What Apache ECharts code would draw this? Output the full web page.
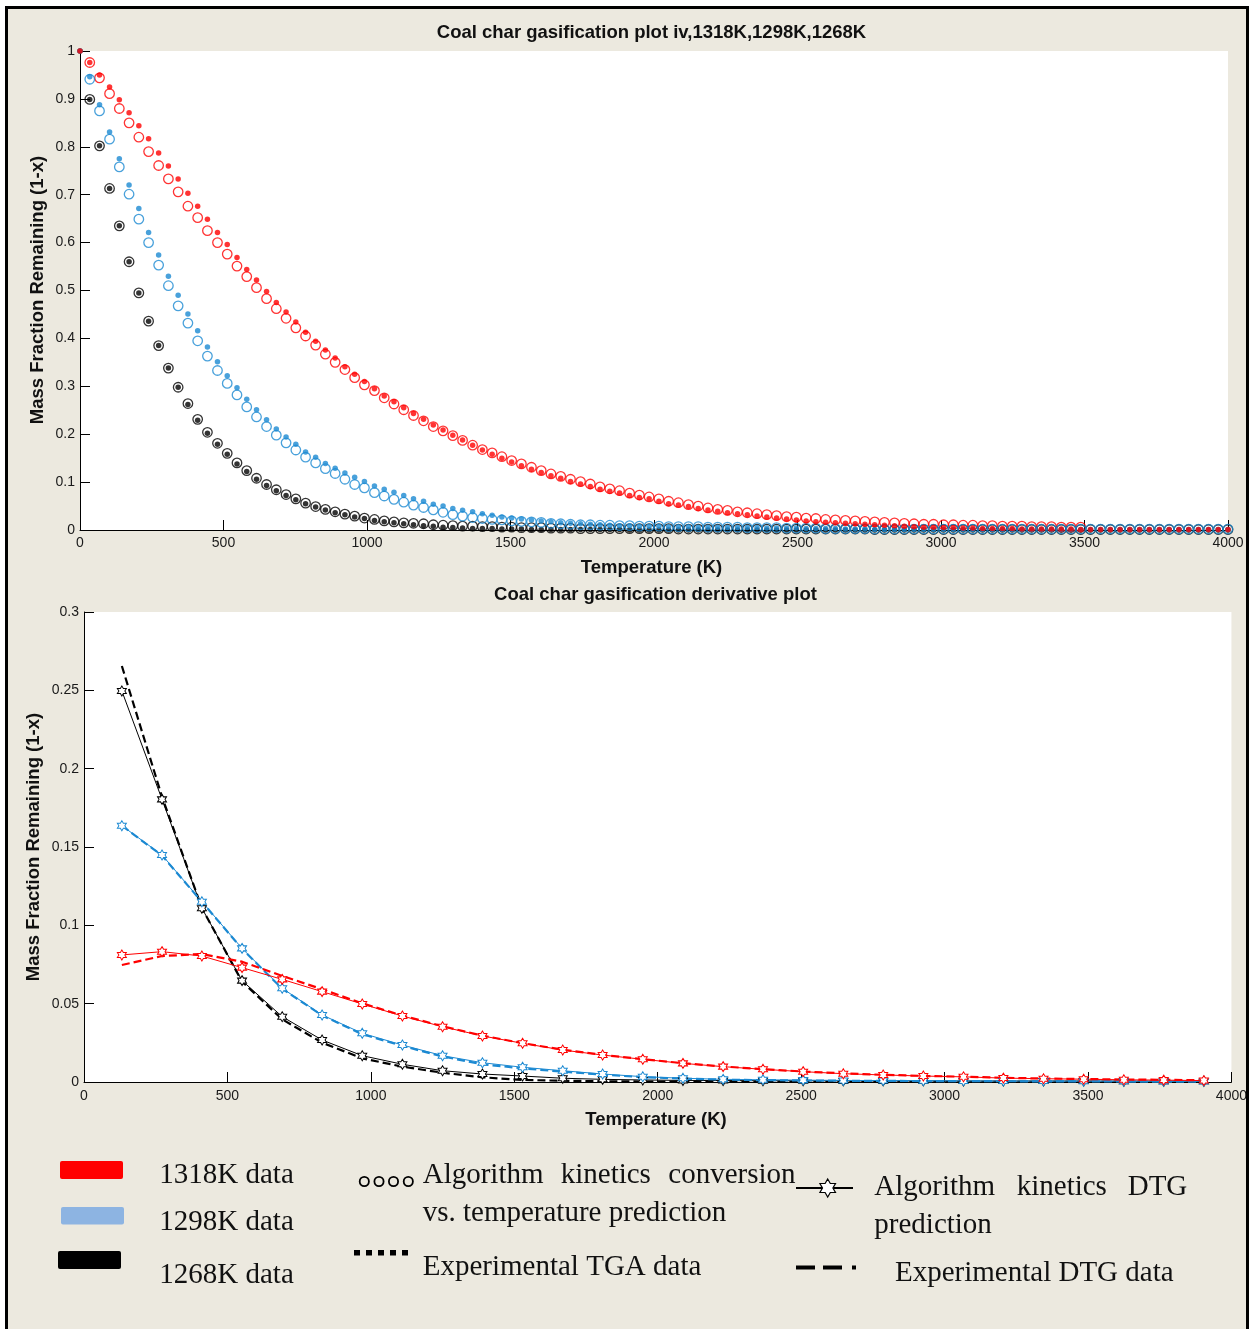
<!DOCTYPE html>
<html>
<head>
<meta charset="utf-8">
<script src="https://cdn.jsdelivr.net/npm/echarts@6/dist/echarts.min.js"></script>
<style>
  html, body { margin: 0; padding: 0; background: #fff; overflow: hidden; }
  #paper { position: absolute; left: 5px; top: 6px; width: 1244px; height: 1340px; background: #ECE9DF; }
  #chart { position: absolute; left: 0; top: 0; width: 1250px; height: 1329px; }
  #frame { position: absolute; left: 5px; top: 6px; width: 1244px; height: 1340px;
           border: 3px solid #000; box-sizing: border-box; pointer-events: none; }
</style>
</head>
<body>
<div id="paper"></div>
<div id="chart"></div>
<div id="frame"></div>
<script>
// ---- conversion vs temperature (upper panel) ----
const temps = [
  0, 34, 68, 103, 137, 171, 205, 239, 274, 308, 342, 376, 410, 444, 479, 513, 547, 581, 615, 650,
  684, 718, 752, 786, 821, 855, 889, 923, 957, 991, 1026, 1060, 1094, 1128, 1162, 1197, 1231, 1265, 1299, 1333,
  1368, 1402, 1436, 1470, 1504, 1538, 1573, 1607, 1641, 1675, 1709, 1744, 1778, 1812, 1846, 1880, 1915, 1949, 1983, 2017,
  2051, 2085, 2120, 2154, 2188, 2222, 2256, 2291, 2325, 2359, 2393, 2427, 2462, 2496, 2530, 2564, 2598, 2632, 2667, 2701,
  2735, 2769, 2803, 2838, 2872, 2906, 2940, 2974, 3009, 3043, 3077, 3111, 3145, 3179, 3214, 3248, 3282, 3316, 3350, 3385,
  3419, 3453, 3487, 3521, 3556, 3590, 3624, 3658, 3692, 3726, 3761, 3795, 3829, 3863, 3897, 3932, 3966, 4000
];

// algorithm prediction (open circles)
const pred1318 = [
  null, 0.976, 0.944, 0.911, 0.880, 0.850, 0.820, 0.790, 0.761, 0.733, 0.706,
  0.676, 0.652, 0.625, 0.600, 0.576, 0.551, 0.529, 0.506, 0.483, 0.462,
  0.442, 0.422, 0.405, 0.386, 0.367, 0.350, 0.335, 0.318, 0.303, 0.291,
  0.276, 0.263, 0.251, 0.239, 0.228, 0.216, 0.207, 0.197, 0.187, 0.177,
  0.168, 0.161, 0.153, 0.145, 0.138, 0.131, 0.124, 0.117, 0.112, 0.106,
  0.101, 0.096, 0.090, 0.086, 0.082, 0.077, 0.073, 0.069, 0.065, 0.060,
  0.057, 0.053, 0.050, 0.046, 0.043, 0.041, 0.038, 0.036, 0.034, 0.032,
  0.030, 0.028, 0.027, 0.025, 0.024, 0.022, 0.021, 0.020, 0.019, 0.018,
  0.017, 0.016, 0.015, 0.014, 0.013, 0.012, 0.012, 0.011, 0.011, 0.010,
  0.010, 0.009, 0.009, 0.008, 0.008, 0.008, 0.007, 0.007, 0.007, 0.006,
  0.006, 0.006
];
const pred1298 = [
  null, 0.941, 0.875, 0.816, 0.758, 0.701, 0.649, 0.600, 0.553, 0.510, 0.468,
  0.432, 0.395, 0.363, 0.333, 0.306, 0.282, 0.257, 0.236, 0.216, 0.198,
  0.182, 0.167, 0.152, 0.140, 0.128, 0.118, 0.106, 0.095, 0.088, 0.078,
  0.071, 0.064, 0.058, 0.052, 0.047, 0.042, 0.037, 0.032, 0.029, 0.026,
  0.024, 0.022, 0.021, 0.019, 0.018, 0.017, 0.016, 0.014, 0.013, 0.012,
  0.011, 0.011, 0.010, 0.010, 0.009, 0.009, 0.008, 0.008, 0.008, 0.007,
  0.007, 0.007, 0.007, 0.006, 0.006, 0.006, 0.006, 0.005, 0.005, 0.005,
  0.005, 0.004, 0.004, 0.004, 0.004, 0.003, 0.003, 0.003, 0.003, 0.003,
  0.002, 0.002, 0.002, 0.002, 0.002, 0.002, 0.002, 0.002, 0.002, 0.002,
  0.002, 0.002, 0.002, 0.002, 0.002, 0.002, 0.002, 0.002, 0.002, 0.002,
  0.002, 0.002, 0.002, 0.002, 0.002, 0.002, 0.002, 0.002, 0.002, 0.002,
  0.002, 0.002, 0.002, 0.002, 0.002, 0.002, 0.002
];
const pred1268 = [
  null, 0.899, 0.802, 0.713, 0.635, 0.560, 0.495, 0.436, 0.385, 0.338, 0.298,
  0.264, 0.231, 0.204, 0.181, 0.160, 0.140, 0.124, 0.108, 0.095, 0.084,
  0.074, 0.065, 0.056, 0.049, 0.043, 0.038, 0.033, 0.029, 0.025, 0.022,
  0.019, 0.017, 0.015, 0.014, 0.013, 0.011, 0.010, 0.009, 0.008, 0.008,
  0.007, 0.007, 0.006, 0.006, 0.005, 0.005, 0.005, 0.004, 0.004, 0.004,
  0.003, 0.003, 0.003, 0.003, 0.003, 0.003, 0.003, 0.003, 0.003, 0.003,
  0.002, 0.002, 0.002, 0.002, 0.002, 0.002, 0.002, 0.002, 0.002, 0.002,
  0.002, 0.002, 0.002, 0.002, 0.002, 0.002, 0.002, 0.002, 0.002, 0.002,
  0.001, 0.001, 0.001, 0.001, 0.001, 0.001, 0.001, 0.001, 0.001, 0.001,
  0.001, 0.001, 0.001, 0.001, 0.001, 0.001, 0.001, 0.001, 0.001, 0.001,
  0.001, 0.001, 0.001, 0.001, 0.001, 0.001, 0.001, 0.001, 0.001, 0.001,
  0.001, 0.001, 0.001, 0.001, 0.001, 0.001, 0.001
];

// experimental TGA (filled dots)
const tga1318 = [
  1.000, 0.976, 0.950, 0.925, 0.898, 0.871, 0.844, 0.817, 0.787, 0.760, 0.733,
  0.703, 0.676, 0.649, 0.621, 0.596, 0.569, 0.544, 0.522, 0.498, 0.475,
  0.455, 0.434, 0.413, 0.394, 0.376, 0.359, 0.341, 0.325, 0.310, 0.295,
  0.280, 0.268, 0.255, 0.243, 0.231, 0.219, 0.209, 0.198, 0.188, 0.177,
  0.167, 0.158, 0.150, 0.142, 0.134, 0.127, 0.120, 0.113, 0.108, 0.101,
  0.096, 0.091, 0.085, 0.081, 0.077, 0.072, 0.068, 0.065, 0.060, 0.055,
  0.052, 0.049, 0.045, 0.042, 0.039, 0.036, 0.034, 0.032, 0.029, 0.027,
  0.025, 0.023, 0.021, 0.019, 0.017, 0.016, 0.015, 0.014, 0.013, 0.012,
  0.011, 0.010, 0.009, 0.008, 0.007, 0.006, 0.006, 0.005, 0.005, 0.004,
  0.004, 0.003, 0.003, 0.003, 0.003, 0.002, 0.002, 0.002, 0.002, 0.002,
  0.002, 0.001, 0.001, 0.001, 0.001, 0.001, 0.001, 0.001, 0.001, 0.001,
  0.001, 0.001, 0.001, 0.001, 0.001, 0.001, 0.001
];
const tga1298 = [
  1.000, 0.946, 0.888, 0.831, 0.775, 0.720, 0.671, 0.621, 0.574, 0.530, 0.490,
  0.451, 0.416, 0.382, 0.351, 0.322, 0.297, 0.273, 0.251, 0.230, 0.211,
  0.194, 0.179, 0.163, 0.152, 0.139, 0.129, 0.119, 0.110, 0.101, 0.092,
  0.085, 0.079, 0.072, 0.065, 0.060, 0.054, 0.050, 0.045, 0.041, 0.038,
  0.034, 0.031, 0.027, 0.025, 0.023, 0.021, 0.019, 0.017, 0.015, 0.014,
  0.013, 0.012, 0.011, 0.010, 0.009, 0.009, 0.008, 0.008, 0.008, 0.007,
  0.007, 0.007, 0.006, 0.006, 0.006, 0.005, 0.005, 0.005, 0.005, 0.004,
  0.004, 0.004, 0.004, 0.003, 0.003, 0.003, 0.003, 0.002, 0.002, 0.002,
  0.001, 0.001, 0.001, 0.001, 0.001, 0.001, 0.001, 0.001, 0.001, 0.001,
  0.001, 0.001, 0.001, 0.001, 0.001, 0.001, 0.001, 0.001, 0.001, 0.001,
  0.001, 0.001, 0.001, 0.001, 0.001, 0.001, 0.001, 0.001, 0.001, 0.001,
  0.001, 0.001, 0.001, 0.001, 0.001, 0.001, 0.001
];
const tga1268 = [
  1.000, 0.899, 0.802, 0.713, 0.635, 0.560, 0.495, 0.436, 0.385, 0.338, 0.298,
  0.262, 0.229, 0.202, 0.179, 0.158, 0.138, 0.122, 0.106, 0.093, 0.082,
  0.072, 0.063, 0.055, 0.048, 0.042, 0.036, 0.032, 0.027, 0.024, 0.020,
  0.017, 0.015, 0.013, 0.011, 0.009, 0.008, 0.006, 0.005, 0.004, 0.003,
  0.003, 0.003, 0.002, 0.002, 0.002, 0.001, 0.001, 0.001, 0.001, 0.001,
  0.001, 0.001, 0.001, 0.001, 0.001, 0, 0, 0, 0, 0,
  0, 0, 0, 0, 0, 0, 0, 0, 0, 0,
  0, 0, 0, 0, 0, 0, 0, 0, 0, 0,
  0, 0, 0, 0, 0, 0, 0, 0, 0, 0,
  0, 0, 0, 0, 0, 0, 0, 0, 0, 0,
  0, 0, 0, 0, 0, 0, 0, 0, 0, 0,
  0, 0, 0, 0, 0, 0, 0
];

// ---- derivative plot (lower panel) ----
const dtgTemps = [132, 272, 411, 551, 691, 830, 970, 1110, 1250, 1389, 1529, 1669, 1808, 1948,
  2088, 2228, 2367, 2507, 2647, 2786, 2926, 3066, 3205, 3345, 3485, 3625, 3764, 3904];

const dtgPred1318 = [0.0811, 0.0832, 0.0804, 0.0730, 0.0655, 0.0577, 0.0498, 0.0421, 0.0353, 0.0294,
  0.0247, 0.0204, 0.0172, 0.0145, 0.0119, 0.0098, 0.0081, 0.0066, 0.0053, 0.0045,
  0.0038, 0.0033, 0.0025, 0.0021, 0.0018, 0.0014, 0.0012, 0.0009];
const dtgPred1298 = [0.1636, 0.1449, 0.1151, 0.0853, 0.0598, 0.0428, 0.0311, 0.0236, 0.0168, 0.0123,
  0.0094, 0.0072, 0.0051, 0.0034, 0.0024, 0.0017, 0.0014, 0.0012, 0.0010, 0.0009,
  0.0008, 0.0007, 0.0006, 0.0006, 0.0005, 0.0005, 0.0004, 0.0004];
const dtgPred1268 = [0.2496, 0.1804, 0.1109, 0.0647, 0.0417, 0.0268, 0.0168, 0.0113, 0.0072, 0.0051,
  0.0038, 0.0024, 0.0017, 0.0013, 0.0010, 0.0009, 0.0008, 0.0008, 0.0007, 0.0007,
  0.0007, 0.0006, 0.0006, 0.0006, 0.0006, 0.0005, 0.0005, 0.0005];

const dtgExp1318 = [0.0747, 0.0804, 0.0817, 0.0768, 0.0677, 0.0592, 0.0502, 0.0424, 0.0356, 0.0296,
  0.0248, 0.0206, 0.0173, 0.0146, 0.0120, 0.0099, 0.0082, 0.0067, 0.0055, 0.0046,
  0.0039, 0.0034, 0.0027, 0.0022, 0.0019, 0.0016, 0.0014, 0.0011];
const dtgExp1298 = [0.1636, 0.1445, 0.1150, 0.0850, 0.0595, 0.0425, 0.0305, 0.0230, 0.0163, 0.0113,
  0.0087, 0.0066, 0.0047, 0.0031, 0.0022, 0.0015, 0.0012, 0.0010, 0.0008, 0.0007,
  0.0006, 0.0005, 0.0005, 0.0004, 0.0004, 0.0003, 0.0003, 0.0003];
const dtgExp1268 = [0.2655, 0.1820, 0.1110, 0.0641, 0.0400, 0.0251, 0.0151, 0.0098, 0.0059, 0.0030,
  0.0013, 0.0008, 0.0005, 0.0003, 0.0002, 0.0001, 0.0001, 0.0001, 0.0001, 0.0001,
  0.0001, 0.0001, 0.0001, 0.0001, 0.0001, 0.0001, 0.0001, 0.0001];

// ---- styling ----
const RED = '#FF0000';
const BLUE = '#1B89D2';
const BLACK = '#000000';
const SANS = '"Liberation Sans", Arial, sans-serif';
const SERIF = '"Liberation Serif", "Times New Roman", serif';
// six-pointed star, drawn in a 100x100 box
const HEX = 'M50,0L64.43,25L93.3,25L78.87,50L93.3,75L64.43,75L50,100L35.57,75L6.7,75L21.13,50L6.7,25L35.57,25Z';
const HEX_UNIT = [[0, -1], [0.289, -0.5], [0.866, -0.5], [0.577, 0], [0.866, 0.5], [0.289, 0.5],
  [0, 1], [-0.289, 0.5], [-0.866, 0.5], [-0.577, 0], [-0.866, -0.5], [-0.289, -0.5]];

function pairs(xs, ys) {
  const out = [];
  for (let i = 0; i < ys.length; i++) if (ys[i] != null) out.push([xs[i], ys[i]]);
  return out;
}

function ring(color, vals) {
  return { type: 'scatter', xAxisIndex: 0, yAxisIndex: 0, data: pairs(temps, vals),
    symbol: 'circle', symbolSize: 9.5, clip: false, silent: true,
    itemStyle: { color: 'rgba(255,255,255,0)', borderColor: color, borderWidth: 1.3 } };
}
function dot(color, vals) {
  return { type: 'scatter', xAxisIndex: 0, yAxisIndex: 0, data: pairs(temps, vals),
    symbol: 'circle', symbolSize: 5.5, clip: false, silent: true,
    itemStyle: { color: color, borderWidth: 0 } };
}
function dtgLine(color, vals) {
  return { type: 'line', xAxisIndex: 1, yAxisIndex: 1, data: pairs(dtgTemps, vals),
    symbol: 'path://' + HEX, symbolSize: [9, 10], showAllSymbol: true, clip: false, silent: true,
    lineStyle: { color: color, width: 1 },
    itemStyle: { color: '#fff', borderColor: color, borderWidth: 1 } };
}
function dtgDash(color, vals) {
  return { type: 'line', xAxisIndex: 1, yAxisIndex: 1, data: pairs(dtgTemps, vals),
    symbol: 'none', clip: false, silent: true,
    lineStyle: { color: color, width: 2.2, type: [8, 4] } };
}

function xAxisOf(grid, margin) {
  return { gridIndex: grid, type: 'value', min: 0, max: 4000, interval: 500,
    axisLine: { show: true, onZero: false, lineStyle: { color: '#000', width: 1 } },
    axisTick: { show: true, inside: true, length: 10, lineStyle: { color: '#000' } },
    axisLabel: { fontSize: 14, fontFamily: SANS, color: '#1a1a1a', margin: margin,
                 showMinLabel: true, showMaxLabel: true, formatter: v => String(v) },
    splitLine: { show: false } };
}
function yAxisOf(grid, max, step) {
  return { gridIndex: grid, type: 'value', min: 0, max: max, interval: step,
    axisLine: { show: true, onZero: false, lineStyle: { color: '#000', width: 1 } },
    axisTick: { show: true, inside: true, length: 10, lineStyle: { color: '#000' } },
    axisLabel: { fontSize: 14, fontFamily: SANS, color: '#1a1a1a', margin: 5,
                 showMinLabel: true, showMaxLabel: true },
    splitLine: { show: false } };
}

function label(text, x, y, opts) {
  const el = { type: 'text', x: x, y: y, silent: true,
    style: { text: text, font: (opts && opts.font) || ('29px ' + SERIF), fill: '#111',
             align: (opts && opts.align) || 'left', verticalAlign: 'middle' } };
  if (opts && opts.rotation) el.rotation = opts.rotation;
  return el;
}

function starPoints(cx, cy, rx, ry) {
  return HEX_UNIT.map(p => [cx + p[0] * rx / 0.866, cy + p[1] * ry]);
}

const headFont = 'bold 18.5px ' + SANS;

const graphics = [
  // panel titles and axis names
  label('Coal char gasification plot iv,1318K,1298K,1268K', 651.5, 33, { font: headFont, align: 'center' }),
  label('Temperature (K)', 651.5, 568, { font: headFont, align: 'center' }),
  label('Mass Fraction Remaining (1-x)', 38, 290, { font: headFont, align: 'center', rotation: Math.PI / 2 }),
  label('Coal char gasification derivative plot', 655.5, 595, { font: headFont, align: 'center' }),
  label('Temperature (K)', 656, 1120, { font: headFont, align: 'center' }),
  label('Mass Fraction Remaining (1-x)', 34, 847, { font: headFont, align: 'center', rotation: Math.PI / 2 }),

  // key: temperature colours
  { type: 'rect', silent: true, shape: { x: 60, y: 1161, width: 63, height: 18, r: 2 }, style: { fill: RED } },
  { type: 'rect', silent: true, shape: { x: 61, y: 1207, width: 63, height: 17.5, r: 2 }, style: { fill: '#8DB4E2' } },
  { type: 'rect', silent: true, shape: { x: 58, y: 1251, width: 63, height: 18, r: 2 }, style: { fill: BLACK } },
  label('1318K data', 159.3, 1175.5),
  label('1298K data', 159.3, 1222),
  label('1268K data', 159.3, 1275.5),

  // key: marker / line styles
  { type: 'circle', silent: true, shape: { cx: 364.3, cy: 1181.5, r: 4.6 }, style: { fill: 'none', stroke: '#000', lineWidth: 1.8 } },
  { type: 'circle', silent: true, shape: { cx: 379, cy: 1181.5, r: 4.6 }, style: { fill: 'none', stroke: '#000', lineWidth: 1.8 } },
  { type: 'circle', silent: true, shape: { cx: 393.5, cy: 1181.5, r: 4.6 }, style: { fill: 'none', stroke: '#000', lineWidth: 1.8 } },
  { type: 'circle', silent: true, shape: { cx: 408.3, cy: 1181.5, r: 4.6 }, style: { fill: 'none', stroke: '#000', lineWidth: 1.8 } },
  label('Algorithm', 422.7, 1175.5),
  label('kinetics', 560.7, 1175.5),
  label('conversion', 668.3, 1175.5),
  label('vs. temperature prediction', 422.7, 1213.8),
  { type: 'line', silent: true, shape: { x1: 354, y1: 1252.7, x2: 408.5, y2: 1252.7 },
    style: { stroke: '#000', lineWidth: 5.5, lineDash: [6, 6] } },
  label('Experimental TGA data', 422.7, 1267),

  { type: 'line', silent: true, shape: { x1: 796, y1: 1188, x2: 853, y2: 1188 }, style: { stroke: '#000', lineWidth: 2 } },
  { type: 'polygon', silent: true, shape: { points: starPoints(827.7, 1188, 7.8, 9) },
    style: { fill: '#fff', stroke: '#000', lineWidth: 1.2 } },
  label('Algorithm', 874.3, 1187.5),
  label('kinetics', 1016.7, 1187.5),
  label('DTG', 1127.7, 1187.5),
  label('prediction', 874.3, 1225.5),
  { type: 'line', silent: true, shape: { x1: 796, y1: 1267.5, x2: 856, y2: 1267.5 },
    style: { stroke: '#000', lineWidth: 4, lineDash: [19, 8, 19, 10, 4, 100] } },
  label('Experimental DTG data', 895, 1273.5)
];

const chart = echarts.init(document.getElementById('chart'), null, { renderer: 'canvas', width: 1250, height: 1329 });
chart.setOption({
  animation: false,
  backgroundColor: 'transparent',
  grid: [
    { left: 80, top: 51, width: 1148, height: 479, show: true, backgroundColor: '#fff', borderWidth: 0 },
    { left: 84, top: 612, width: 1151, height: 470, show: true, backgroundColor: '#fff', borderWidth: 0 }
  ],
  xAxis: [xAxisOf(0, 6), xAxisOf(1, 7)],
  yAxis: [yAxisOf(0, 1, 0.1), yAxisOf(1, 0.3, 0.05)],
  series: [
    ring(RED, pred1318),
    ring(BLACK, pred1268),
    dot(BLACK, tga1268),
    ring(BLUE, pred1298),
    dot(BLUE, tga1298),
    dot(RED, tga1318),

    dtgDash(BLACK, dtgExp1268),
    dtgLine(BLACK, dtgPred1268),
    dtgDash(BLUE, dtgExp1298),
    dtgLine(BLUE, dtgPred1298),
    dtgDash(RED, dtgExp1318),
    dtgLine(RED, dtgPred1318)
  ],
  graphic: graphics
});
</script>
</body>
</html>
